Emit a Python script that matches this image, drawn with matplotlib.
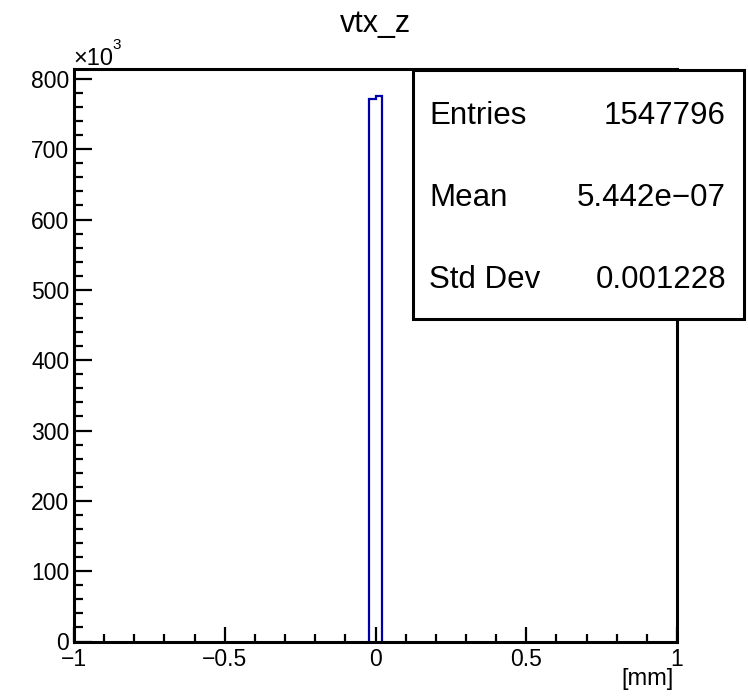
import matplotlib
matplotlib.use("Agg")
import matplotlib.pyplot as plt
from matplotlib.patches import Rectangle
from matplotlib.ticker import FixedLocator, MultipleLocator, FuncFormatter

plt.rcParams["font.family"] = ["Liberation Sans", "DejaVu Sans"]

# histogram contents (counts in units of 10^3)
bin_edges = [-0.02, 0.0, 0.02]
bin_counts = [772.0, 775.8]

x_major = [-1, -0.5, 0, 0.5, 1]
y_major = [0, 100, 200, 300, 400, 500, 600, 700, 800]

stat_names = ["Entries", "Mean", "Std Dev"]
stat_values = ["1547796", "5.442e\u221207", "0.001228"]

W, H = 748, 696
fig = plt.figure(figsize=(W / 100, H / 100), dpi=100)
ax = fig.add_axes([74 / W, 1 - 641.5 / H, (677 - 74) / W, (641.5 - 69) / H])

ax.stairs(bin_counts, bin_edges, baseline=0, fill=False, color="#0000a8", linewidth=1.6)

ax.set_xlim(-1, 1)
ax.set_ylim(0, 814)

ax.xaxis.set_major_locator(FixedLocator(x_major))
ax.xaxis.set_minor_locator(MultipleLocator(0.1))
ax.yaxis.set_major_locator(FixedLocator(y_major))
ax.yaxis.set_minor_locator(MultipleLocator(20))


def fmt(v, pos):
    s = ("%g" % v)
    return s.replace("-", "\u2212")


ax.xaxis.set_major_formatter(FuncFormatter(fmt))
ax.yaxis.set_major_formatter(FuncFormatter(fmt))

for sp in ax.spines.values():
    sp.set_linewidth(2.2)

ax.tick_params(axis="x", which="major", direction="in", length=11, width=1.6,
               labelsize=16.5, pad=5)
ax.tick_params(axis="x", which="minor", direction="in", length=5.5, width=1.6)
ax.tick_params(axis="y", which="major", direction="in", length=13, width=1.6,
               labelsize=16.5, pad=3.5)
ax.tick_params(axis="y", which="minor", direction="in", length=6.5, width=1.6)
ax.tick_params(top=False, right=False, which="both")

fig.text(375 / W, 1 - 24 / H, "vtx_z", ha="center", va="center", fontsize=22)
fig.text(73 / W, 1 - 59 / H, "\u00d710", ha="left", va="center", fontsize=17)
fig.text(112 / W, 1 - 45 / H, "3", ha="left", va="center", fontsize=11)
fig.text(674 / W, 1 - 679 / H, "[mm]", ha="right", va="center", fontsize=17)

# stats box
fig.patches.append(Rectangle((413 / W, 1 - 319 / H), (744 - 413) / W, (319 - 70) / H,
                             transform=fig.transFigure, facecolor="white",
                             edgecolor="black", linewidth=2.2, zorder=5))
row_base = [124.5, 206.5, 288]
for name, val, yy in zip(stat_names, stat_values, row_base):
    fig.text(429 / W, 1 - yy / H, name, ha="left", va="baseline", fontsize=22.5, zorder=6)
    fig.text(726 / W, 1 - yy / H, val, ha="right", va="baseline", fontsize=22.5, zorder=6)

fig.savefig("out.png", dpi=100)
